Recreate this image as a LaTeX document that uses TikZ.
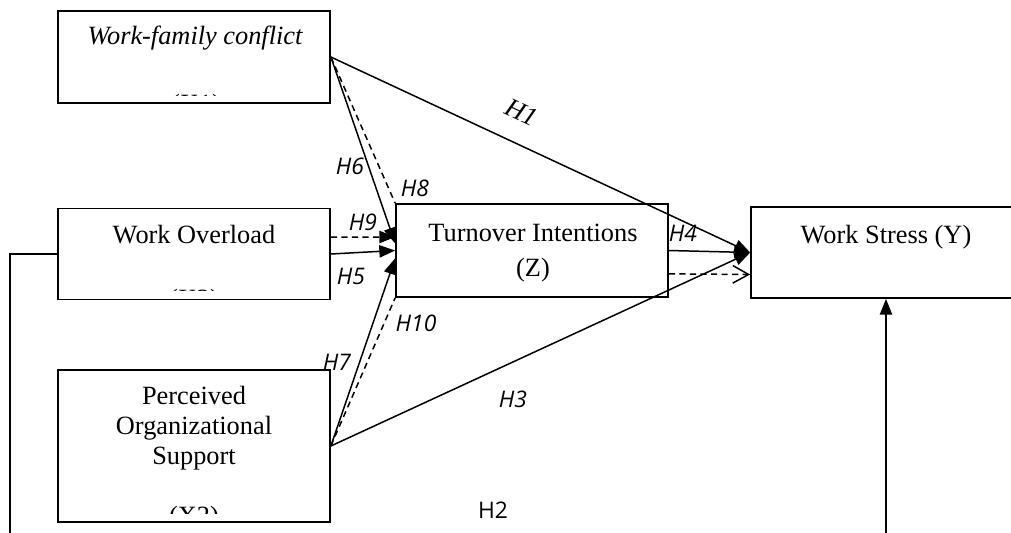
\documentclass[tikz,border=0pt]{standalone}
\usepackage{fontspec}
\setmainfont{Liberation Serif}
\newfontfamily\hfont{Open Sans}
\usetikzlibrary{arrows.meta}
\begin{document}
\begin{tikzpicture}[x=0.02cm,y=-0.02cm,line width=0.85pt,
  box/.style={draw,line width=1pt,minimum width=5.44cm,inner sep=0pt},
  txt/.style={font=\fontsize{15}{17}\selectfont,align=center,inner sep=0pt},
  hyp/.style={font=\hfont\itshape\fontsize{13}{15}\selectfont,inner sep=0pt},
  dsh/.style={dash pattern=on 3.5pt off 2.5pt},
  >={Triangle[length=9pt,width=7pt]}]
\clip(0,0)rectangle(1011,532);
\node[box,minimum height=1.84cm](wfc) at(194,57){};
\node[box,minimum height=1.82cm](wo) at(194,254){};
\node[box,minimum height=3.04cm](pos) at(194,446){};
\node[box,minimum width=5.44cm,minimum height=1.86cm](ti) at(532,250.5){};
\node[box,minimum width=5.4cm,minimum height=1.82cm](ws) at(886,252.5){};
\node[txt,font=\fontsize{15}{17}\selectfont\itshape](wfct) at(195,38){Work-family conflict};
\node[txt](wot) at(194,235){Work Overload};
\node[txt](post) at(194,428.5){Perceived\\Organizational\\Support};
\node[txt](tit) at(533,233){Turnover Intentions};
\node[txt](tiz) at(533,270){(Z)};
\node[txt](wst) at(886,237){Work Stress (Y)};
\begin{scope}
\clip(60,80)rectangle(328,95.5);
\node[txt](x1) at(196,106){(X1)};
\end{scope}
\begin{scope}
\clip(60,270)rectangle(328,290.5);
\node[txt](x2) at(194,301){(X2)};
\end{scope}
\begin{scope}
\clip(60,480)rectangle(328,513);
\node[txt](x3) at(194,518){(X2)};
\end{scope}
\draw[->](wfc.east)--(ws.west);
\draw[->](wfc.east)--([yshift=4pt]ti.west);
\draw[dsh](wfc.east)--(ti.north west);
\draw[->,dsh]([yshift=9.6pt]wo.east)--([yshift=7.7pt]ti.west);
\draw[->](wo.east)--(ti.west);
\draw[->](pos.east)--([yshift=-4.5pt]ti.west);
\draw[dsh](pos.east)--(ti.south west);
\draw[->](pos.east)--(ws.west);
\draw[->](ti.east)--(ws.west);
\draw[-{Straight Barb[length=9pt,width=10pt]},dsh]([yshift=-13.3pt]ti.east)--([yshift=-12.5pt]ws.west);
\draw[->](wo.west)-|(10,560)-|(ws.south);
\node[font=\fontsize{15}{17}\selectfont\itshape,rotate=-25](h1) at(522,112){H1};
\node[hyp](h6) at(350,166){H6};
\node[hyp](h8) at(415,188){H8};
\node[hyp](h9) at(363,222){H9};
\node[hyp](h5) at(351,276){H5};
\node[hyp](h10) at(416,323){H10};
\node[hyp](h7) at(337,362){H7};
\node[hyp](h3) at(513,399){H3};
\node[hyp](h4) at(683,233){H4};
\node[hyp,font=\hfont\fontsize{13}{15}\selectfont](h2) at(493,510){H2};
\end{tikzpicture}
\end{document}
